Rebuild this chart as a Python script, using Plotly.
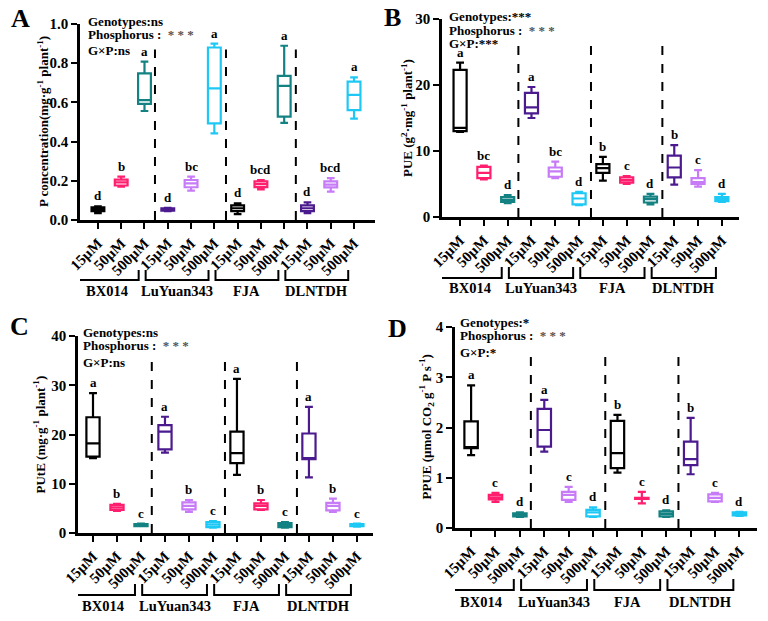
import plotly.graph_objects as go

doses = ["15µM", "50µM", "500µM"]
genotypes = ["BX014", "LuYuan343", "FJA", "DLNTDH"]
box_colors = ["#000000", "#FF1F6E", "#148282", "#4B1A8F", "#C77BF7", "#1EC8F5",
              "#000000", "#FF1F6E", "#148282", "#4B1A8F", "#C77BF7", "#1EC8F5"]

# A: P concentration
a_low = [0.035, 0.170, 0.556, 0.045, 0.150, 0.442, 0.030, 0.156, 0.496, 0.035, 0.145, 0.517]
a_q1 = [0.045, 0.176, 0.592, 0.048, 0.167, 0.493, 0.045, 0.168, 0.527, 0.045, 0.166, 0.561]
a_med = [0.055, 0.192, 0.612, 0.053, 0.187, 0.672, 0.060, 0.183, 0.684, 0.060, 0.180, 0.638]
a_q3 = [0.065, 0.206, 0.748, 0.060, 0.204, 0.880, 0.075, 0.197, 0.735, 0.075, 0.197, 0.706]
a_high = [0.070, 0.221, 0.808, 0.062, 0.221, 0.900, 0.085, 0.204, 0.889, 0.090, 0.214, 0.728]
a_letters = ["d", "b", "a", "d", "bc", "a", "d", "bcd", "a", "d", "bcd", "a"]
a_stats = ["Genotypes:ns", "Phosphorus :  <span style='color:#555555'>* * *</span>", "G×P:ns"]

# B: PUE
b_low = [12.9, 5.7, 2.1, 15.0, 5.9, 1.8, 5.5, 5.0, 1.9, 4.9, 4.6, 2.3]
b_q1 = [13.0, 5.9, 2.3, 15.7, 6.1, 1.9, 6.7, 5.2, 2.2, 6.0, 5.0, 2.4]
b_med = [13.5, 6.7, 2.6, 16.6, 6.9, 2.8, 7.4, 5.6, 2.7, 7.5, 5.3, 2.7]
b_q3 = [22.3, 7.6, 3.0, 18.8, 7.5, 3.6, 8.0, 6.0, 3.1, 9.3, 5.9, 3.0]
b_high = [23.4, 7.8, 3.3, 19.7, 8.4, 3.8, 9.1, 6.2, 3.5, 10.9, 7.1, 3.5]
b_letters = ["a", "bc", "d", "a", "bc", "d", "b", "c", "d", "b", "c", "d"]
b_stats = ["Genotypes:***", "Phosphorus :  <span style='color:#555555'>* * *</span>", "G×P:***"]

# C: PUtE
c_low = [15.2, 4.5, 1.4, 16.3, 4.3, 1.1, 11.8, 4.7, 1.1, 11.3, 4.3, 1.3]
c_q1 = [15.5, 4.7, 1.4, 17.0, 4.8, 1.2, 14.2, 4.8, 1.2, 15.0, 4.6, 1.4]
c_med = [18.2, 5.2, 1.6, 20.6, 5.5, 1.7, 16.2, 5.5, 1.6, 15.2, 5.5, 1.6]
c_q3 = [23.5, 5.7, 1.8, 21.9, 6.2, 2.2, 20.6, 6.0, 2.0, 20.2, 6.1, 1.8]
c_high = [28.4, 5.9, 1.9, 23.6, 6.7, 2.4, 31.3, 6.7, 2.2, 25.6, 7.0, 1.9]
c_letters = ["a", "b", "c", "a", "b", "c", "a", "b", "c", "a", "b", "c"]
c_stats = ["Genotypes:ns", "Phosphorus :  <span style='color:#555555'>* * *</span>", "G×P:ns"]

# D: PPUE
d_low = [1.45, 0.52, 0.22, 1.52, 0.52, 0.22, 1.10, 0.49, 0.22, 1.07, 0.52, 0.24]
d_q1 = [1.59, 0.57, 0.23, 1.62, 0.56, 0.23, 1.19, 0.58, 0.23, 1.25, 0.53, 0.25]
d_med = [1.60, 0.61, 0.26, 1.95, 0.66, 0.31, 1.49, 0.59, 0.28, 1.37, 0.60, 0.28]
d_q3 = [2.12, 0.66, 0.29, 2.37, 0.72, 0.36, 2.13, 0.60, 0.33, 1.72, 0.67, 0.31]
d_high = [2.84, 0.70, 0.31, 2.55, 0.82, 0.41, 2.25, 0.72, 0.35, 2.19, 0.70, 0.32]
d_letters = ["a", "c", "d", "a", "c", "d", "b", "c", "d", "b", "c", "d"]
d_stats = ["Genotypes:*", "Phosphorus :  <span style='color:#555555'>* * *</span>", "G×P:*"]

# the page body keeps its default 8px margin, so the figure sits 8px in from the corner
OFF = 8
W, H = 768 - OFF, 621 - OFF
SERIF = "Liberation Serif, Times New Roman, DejaVu Serif, serif"


def px(x):
    return (x - OFF) / W


def py(y):
    return 1 - (y - OFF) / H


# pixel boxes of each plot area (window pixels): left, right, top, bottom
panels = [
    dict(name="A", low=a_low, q1=a_q1, med=a_med, q3=a_q3, high=a_high, letters=a_letters,
         stats=a_stats, box=(80, 375, 24, 220), xr=[-0.77, 11.9], yr=[0, 1.0], dtick=0.2,
         fmt=".1f", dash_top=0.87, title="P concentration(mg·g<sup>-1</sup> plant<sup>-1</sup>)",
         title_x=43, stats_xy=(86, 21), gaps=[0, 13, 30], letter_xy=(20, 19),
         br=(270, 280, 291)),
    dict(name="B", low=b_low, q1=b_q1, med=b_med, q3=b_q3, high=b_high, letters=b_letters,
         stats=b_stats, box=(442, 739, 19, 217), xr=[-0.76, 11.72], yr=[0, 30], dtick=10,
         fmt="d", dash_top=26.4, title="PUE (g<sup>2</sup>·mg<sup>-1</sup> plant<sup>-1</sup>)",
         title_x=407, stats_xy=(447, 16), gaps=[0, 14, 28], letter_xy=(392, 18),
         br=(267, 278, 288)),
    dict(name="C", low=c_low, q1=c_q1, med=c_med, q3=c_q3, high=c_high, letters=c_letters,
         stats=c_stats, box=(78, 373, 336, 533), xr=[-0.625, 11.67], yr=[0, 40], dtick=10,
         fmt="d", dash_top=35.0, title="PUtE (mg·g<sup>-1</sup> plant<sup>-1</sup>)",
         title_x=39, stats_xy=(81, 332), gaps=[0, 13, 30], letter_xy=(19, 326),
         br=(584, 595, 606)),
    dict(name="D", low=d_low, q1=d_q1, med=d_med, q3=d_q3, high=d_high, letters=d_letters,
         stats=d_stats, box=(455, 757, 327, 528), xr=[-0.66, 11.72], yr=[0, 4], dtick=1,
         fmt="d", dash_top=3.44,
         title="PPUE (µmol CO<sub>2</sub> g<sup>-1</sup> P s<sup>-1</sup>)",
         title_x=427, stats_xy=(458, 322), gaps=[0, 13, 30], letter_xy=(397, 328),
         br=(579, 590, 602)),
]

fig = go.Figure()
layout = {}
shapes = []
annotations = []

for k, p in enumerate(panels):
    n = "" if k == 0 else str(k + 1)
    xa, ya = "x" + n, "y" + n
    left, right, top, bottom = p["box"]

    for i in range(12):
        fig.add_trace(go.Box(
            x=[i], q1=[p["q1"][i]], median=[p["med"][i]], q3=[p["q3"][i]],
            lowerfence=[p["low"][i]], upperfence=[p["high"][i]],
            xaxis=xa, yaxis=ya,
            line=dict(color=box_colors[i], width=2.2),
            fillcolor="white", width=0.55, whiskerwidth=0.6,
            boxpoints=False, showlegend=False, hoverinfo="skip",
        ))
        annotations.append(dict(
            x=i, y=p["high"][i], xref=xa, yref=ya, text="<b>%s</b>" % p["letters"][i],
            showarrow=False, xanchor="center", yanchor="bottom", yshift=1,
            font=dict(family=SERIF, size=13, color="black"),
        ))

    layout["xaxis" + n] = dict(
        domain=[px(left), px(right)], range=p["xr"], anchor=ya, automargin=False,
        tickvals=list(range(12)), ticktext=doses * 4, tickangle=-45,
        ticks="outside", ticklen=6, tickwidth=2, tickcolor="black",
        showline=True, linewidth=2.5, linecolor="black",
        showgrid=False, zeroline=False,
        tickfont=dict(family=SERIF, size=15, color="black", weight="bold"),
    )
    layout["yaxis" + n] = dict(
        domain=[py(bottom), py(top)], range=p["yr"], anchor=xa, automargin=False,
        dtick=p["dtick"], tickformat=p["fmt"],
        ticks="outside", ticklen=6, tickwidth=2, tickcolor="black",
        showline=True, linewidth=2.5, linecolor="black",
        showgrid=False, zeroline=False,
        tickfont=dict(family=SERIF, size=15, color="black", weight="bold"),
    )

    # dashed separators between genotypes
    for xs in [2.45, 5.5, 8.5]:
        shapes.append(dict(type="line", xref=xa, yref=ya, x0=xs, x1=xs, y0=0,
                           y1=p["dash_top"], line=dict(color="black", width=2, dash="dash")))

    # brackets and genotype labels
    yt, yb, yl = p["br"]
    for g, name in enumerate(genotypes):
        x0, x1 = g * 3 - 0.95, g * 3 + 1.75
        shapes.append(dict(type="path", xref=xa, yref="paper",
                           path="M %f,%f L %f,%f L %f,%f L %f,%f" % (
                               x0, py(yt), x0, py(yb), x1, py(yb), x1, py(yt)),
                           line=dict(color="black", width=2)))
        annotations.append(dict(x=(x0 + x1) / 2, y=py(yl), xref=xa, yref="paper",
                                text="<b>%s</b>" % name, showarrow=False,
                                xanchor="center", yanchor="middle",
                                font=dict(family=SERIF, size=14.5, color="black")))

    # y-axis title
    annotations.append(dict(x=px(p["title_x"]), y=py((top + bottom) / 2), xref="paper",
                            yref="paper", text="<b>%s</b>" % p["title"], textangle=-90,
                            xanchor="center", yanchor="middle", showarrow=False,
                            font=dict(family=SERIF, size=13, color="black")))

    # statistics text
    sx, sy = p["stats_xy"]
    for line, gap in zip(p["stats"], p["gaps"]):
        annotations.append(dict(x=px(sx), y=py(sy + gap), xref="paper", yref="paper",
                                text="<b>%s</b>" % line, showarrow=False,
                                xanchor="left", yanchor="middle",
                                font=dict(family=SERIF, size=13, color="black")))

    # panel letter
    lx, ly = p["letter_xy"]
    annotations.append(dict(x=px(lx), y=py(ly), xref="paper", yref="paper",
                            text="<b>%s</b>" % p["name"], showarrow=False,
                            xanchor="center", yanchor="middle",
                            font=dict(family=SERIF, size=26, color="black")))

fig.update_layout(
    width=W, height=H,
    margin=dict(l=0, r=0, t=0, b=0, autoexpand=False),
    paper_bgcolor="white", plot_bgcolor="white",
    showlegend=False,
    shapes=shapes, annotations=annotations,
    **layout,
)

fig.write_html("out.html")
